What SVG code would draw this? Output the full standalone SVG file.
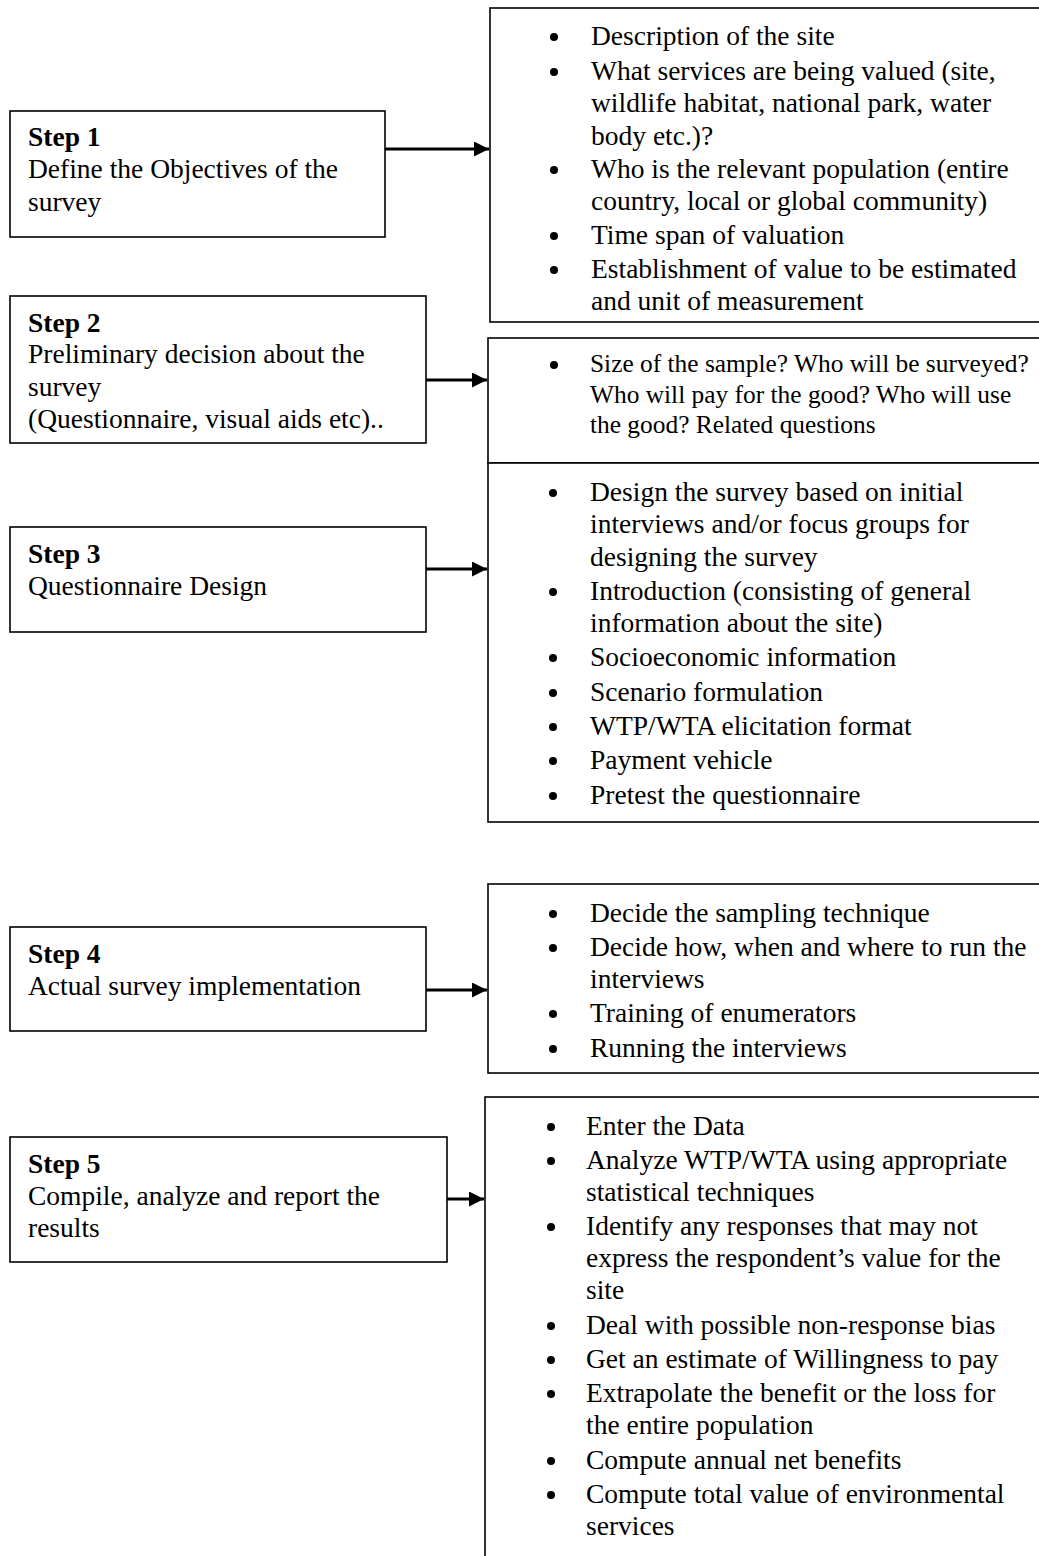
<svg xmlns="http://www.w3.org/2000/svg" width="1039" height="1556" viewBox="0 0 1039 1556">
<style>
.box{fill:#fff;stroke:#000;stroke-width:1.6}
.t{font-family:"Liberation Serif","Times New Roman",serif;font-size:27.5px;fill:#000}
.s{font-family:"Liberation Serif","Times New Roman",serif;font-size:25.4px;fill:#000}
.b{font-weight:bold}
.c{stroke:#000;stroke-width:3;fill:none}
.d{fill:#000}
</style>
<defs>
<marker id="ah" viewBox="0 0 10 10" refX="10" refY="5" markerWidth="5" markerHeight="5" markerUnits="strokeWidth" orient="auto">
<path d="M0,0 L10,5 L0,10 z" fill="#000"/>
</marker>
</defs>
<rect width="1039" height="1556" fill="#fff"/>

<g id="connectors">
<line class="c" x1="385" y1="149" x2="489" y2="149" marker-end="url(#ah)"/>
<line class="c" x1="426" y1="380" x2="487" y2="380" marker-end="url(#ah)"/>
<line class="c" x1="426" y1="569" x2="487" y2="569" marker-end="url(#ah)"/>
<line class="c" x1="426" y1="990" x2="487" y2="990" marker-end="url(#ah)"/>
<line class="c" x1="447" y1="1199" x2="484" y2="1199" marker-end="url(#ah)"/>
</g>

<g id="step1">
<rect class="box" x="10" y="111" width="375" height="126"/>
<text class="t b" x="28" y="146">Step 1</text>
<text class="t" x="28" y="178">Define the Objectives of the</text>
<text class="t" x="28" y="211">survey</text>
</g>

<g id="details1">
<rect class="box" x="490" y="8" width="560" height="314"/>
<circle class="d" cx="554" cy="37" r="4"/>
<circle class="d" cx="554" cy="72" r="4"/>
<circle class="d" cx="554" cy="170" r="4"/>
<circle class="d" cx="554" cy="236" r="4"/>
<circle class="d" cx="554" cy="270" r="4"/>
<g class="t">
<text x="591" y="45">Description of the site</text>
<text x="591" y="80">What services are being valued (site,</text>
<text x="591" y="112">wildlife habitat, national park, water</text>
<text x="591" y="145">body etc.)?</text>
<text x="591" y="178">Who is the relevant population (entire</text>
<text x="591" y="210">country, local or global community)</text>
<text x="591" y="244">Time span of valuation</text>
<text x="591" y="278">Establishment of value to be estimated</text>
<text x="591" y="310">and unit of measurement</text>
</g>
</g>

<g id="step2">
<rect class="box" x="10" y="296" width="416" height="147"/>
<text class="t b" x="28" y="332">Step 2</text>
<text class="t" x="28" y="363">Preliminary decision about the</text>
<text class="t" x="28" y="396">survey</text>
<text class="t" x="28" y="428">(Questionnaire, visual aids etc)..</text>
</g>

<g id="details2">
<rect class="box" x="488" y="338" width="560" height="125"/>
<circle class="d" cx="554" cy="365" r="4"/>
<g class="s">
<text x="590" y="372">Size of the sample? Who will be surveyed?</text>
<text x="590" y="403">Who will pay for the good? Who will use</text>
<text x="590" y="433">the good? Related questions</text>
</g>
</g>

<g id="step3">
<rect class="box" x="10" y="527" width="416" height="105"/>
<text class="t b" x="28" y="563">Step 3</text>
<text class="t" x="28" y="595">Questionnaire Design</text>
</g>

<g id="details3">
<rect class="box" x="488" y="463" width="560" height="359"/>
<circle class="d" cx="553" cy="493" r="4"/>
<circle class="d" cx="553" cy="592" r="4"/>
<circle class="d" cx="553" cy="658" r="4"/>
<circle class="d" cx="553" cy="693" r="4"/>
<circle class="d" cx="553" cy="727" r="4"/>
<circle class="d" cx="553" cy="761" r="4"/>
<circle class="d" cx="553" cy="796" r="4"/>
<g class="t">
<text x="590" y="501">Design the survey based on initial</text>
<text x="590" y="533">interviews and/or focus groups for</text>
<text x="590" y="566">designing the survey</text>
<text x="590" y="600">Introduction (consisting of general</text>
<text x="590" y="632">information about the site)</text>
<text x="590" y="666">Socioeconomic information</text>
<text x="590" y="701">Scenario formulation</text>
<text x="590" y="735">WTP/WTA elicitation format</text>
<text x="590" y="769">Payment vehicle</text>
<text x="590" y="804">Pretest the questionnaire</text>
</g>
</g>

<g id="step4">
<rect class="box" x="10" y="927" width="416" height="104"/>
<text class="t b" x="28" y="963">Step 4</text>
<text class="t" x="28" y="995">Actual survey implementation</text>
</g>

<g id="details4">
<rect class="box" x="488" y="884" width="560" height="189"/>
<circle class="d" cx="553" cy="914" r="4"/>
<circle class="d" cx="553" cy="948" r="4"/>
<circle class="d" cx="553" cy="1014" r="4"/>
<circle class="d" cx="553" cy="1049" r="4"/>
<g class="t">
<text x="590" y="922">Decide the sampling technique</text>
<text x="590" y="956">Decide how, when and where to run the</text>
<text x="590" y="988">interviews</text>
<text x="590" y="1022">Training of enumerators</text>
<text x="590" y="1057">Running the interviews</text>
</g>
</g>

<g id="step5">
<rect class="box" x="10" y="1137" width="437" height="125"/>
<text class="t b" x="28" y="1173">Step 5</text>
<text class="t" x="28" y="1205">Compile, analyze and report the</text>
<text class="t" x="28" y="1237">results</text>
</g>

<g id="details5">
<rect class="box" x="485" y="1097" width="570" height="480"/>
<circle class="d" cx="551" cy="1127" r="4"/>
<circle class="d" cx="551" cy="1161" r="4"/>
<circle class="d" cx="551" cy="1227" r="4"/>
<circle class="d" cx="551" cy="1326" r="4"/>
<circle class="d" cx="551" cy="1360" r="4"/>
<circle class="d" cx="551" cy="1394" r="4"/>
<circle class="d" cx="551" cy="1461" r="4"/>
<circle class="d" cx="551" cy="1495" r="4"/>
<g class="t">
<text x="586" y="1135">Enter the Data</text>
<text x="586" y="1169">Analyze WTP/WTA using appropriate</text>
<text x="586" y="1201">statistical techniques</text>
<text x="586" y="1235">Identify any responses that may not</text>
<text x="586" y="1267">express the respondent’s value for the</text>
<text x="586" y="1299">site</text>
<text x="586" y="1334">Deal with possible non-response bias</text>
<text x="586" y="1368">Get an estimate of Willingness to pay</text>
<text x="586" y="1402">Extrapolate the benefit or the loss for</text>
<text x="586" y="1434">the entire population</text>
<text x="586" y="1469">Compute annual net benefits</text>
<text x="586" y="1503">Compute total value of environmental</text>
<text x="586" y="1535">services</text>
</g>
</g>
</svg>
